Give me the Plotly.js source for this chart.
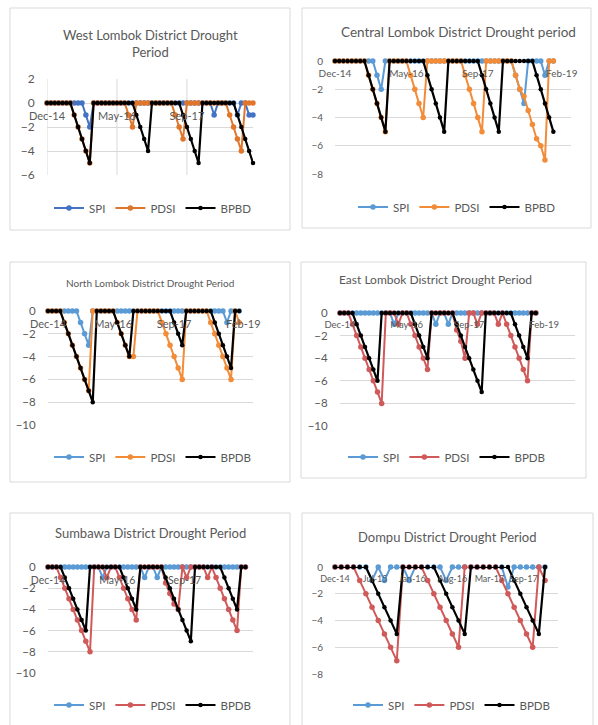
<!DOCTYPE html>
<html><head><meta charset="utf-8">
<script src="https://cdn.plot.ly/plotly-3.0.1.min.js"></script>
<style>html,body{margin:0;padding:0;background:#fff}#chart{width:598px;height:725px}</style>
</head><body><div id="chart"></div>
<script>
// ---------- DATA ----------
// West Lombok
const westSPI  = [0,0,0,0,0,0,0,0,0,0, -1,-2,0,0,0,0,0,0,0,0, 0,0,0,0,0,0,0,0,0,0, 0,0,0,0,0,0,0,0,0,0, 0,0,0,-1,0,0,0,0,0,-1, 0,0,-1,-1];
const westPDSI = [0,0,0,0,0,0,0,-1,-2,-3, -4,-5,0,0,0,0,0,0,0,0, 0,-1,-2,0,0,0,0,0,0,0, 0,0,0,-1,-2,-3,0,0,0,0, 0,0,0,0,0,0,0,-1,-2,-3, -4,0,0,0];
const westBPBD = [0,0,0,0,0,0,0,-1,-2,-3, -4,-5,0,0,0,0,0,0,0,0, 0,0,0,-1,-2,-3,-4,0,0,0, 0,0,0,0,0,-1,-2,-3,-4,-5, 0,0,0,0,0,0,0,0,0,-1, -2,-3,-4,-5];
const westTickText = ['Dec-14','May-16','Sep-17'];
const westTickPos  = [0,18,36];

// Central Lombok
const centralSPI  = [0,0,0,0,0,0,0,0,0,0, -1,-2,0,0,0,0,0,0,0,0, 0,0,0,0,0,0,0,0,0,0, 0,0,0,0,0,0,0,0,0,0, 0,0,0,-1,-2,-3,0,0,0,0, -1,0,0];
const centralPDSI = [0,0,0,0,0,0,0,0,-1,-2, -3,-4,-5,0,0,0,0,0,-1,-2, -3,-4,0,0,0,0,0,0,0,0, 0,-1,-2,-3,-4,-5,0,0,0,0, 0,0,0,-1,-2,-2.5,-3.5,-4.5,-5.5,-6, -7,0,0];
const centralBPBD = [0,0,0,0,0,0,0,0,-1,-2, -3,-4,-5,0,0,0,0,0,0,0, 0,0,-1,-2,-3,-4,-5,0,0,0, 0,0,0,0,0,-1,-2,-3,-4,-5, 0,0,0,0,0,0,0,0,-1,-2, -3,-4,-5];
const centralTickText = ['Dec-14','May-16','Sep-17','Feb-19'];
const centralTickPos  = [0,17,34,54];

// North Lombok
const northSPI  = [0,0,0,0,0,0,0,0,-1,-2, -3,0,0,0,0,0,0,0,0,0, 0,0,0,0,0,0,0,0,0,0, 0,0,0,0,0,0,0,0,0,0, 0,0,0,0,-1,0,0,0];
const northPDSI = [0,0,0,0,-1,-2,-3,-4,-5,-6, -7,0,0,0,0,0,0,-1,-2,-3, -4,-4,0,0,0,0,0,0,-1,-2, -3,-4,-5,-6,0,0,0,0,0,0, -1,-2,-3,-4,-5,-6,0,-1];
const northBPDB = [0,0,0,0,-1,-2,-3,-4,-5,-6, -7,-8,0,0,0,0,0,-1,-2,-3, -4,0,0,0,0,0,0,0,0,0, 0,-1,-2,-3,0,0,0,0,0,0, 0,-1,-2,-3,-4,-5,0,0];
const northTickText = ['Dec-14','May-16','Sep-17','Feb-19'];
const northTickPos  = [0,16,31,48];

// East Lombok
const eastSPI  = [0,0,0,0,0,0,0,0,0,0, 0,0,0,-1,0,0,0,0,0,0, 0,0,0,-1,0,0,-1,0,0,0, 0,0,0,0,0,0,0,0,0,0, 0,0,0,0,0,0,0,0];
const eastPDSI = [0,0,0,-1,-2,-3,-4,-5,-6,-7, -8,0,0,0,-1,0,0,-1,-2,-3, -4,-5,0,0,0,0,0,0,-1.5,-2.5, -4,0,0,-1,0,0,0,0,-1,0, -1,-2,-3,-4,-5,-6,0,0];
const eastBPDB = [0,0,0,0,-1,-2,-3,-4,-5,-6, 0,0,0,0,0,0,0,0,-1,-2, -3,-4,0,0,0,0,0,0,-1,-2, -3,-4,-5,-6,-7,0,0,0,0,0, 0,0,-1,-2,-3,-4,0,0];
const eastTickText = ['Dec-14','May-16','Sep-17','Feb-19'];
const eastTickPos  = [0,16,31,49];

// Sumbawa
const sumbawaSPI  = [0,0,0,0,0,0,0,0,0,0, 0,0,0,-1,0,0,0,0,0,0, 0,0,0,-1,0,0,-1,0,0,0, 0,0,0,0,0,0,0,0,0,0, 0,0,0,0,0,0,0,0];
const sumbawaPDSI = [0,0,0,-1,-2,-3,-4,-5,-6,-7, -8,0,0,0,-1,0,0,-1,-2,-3, -4,-5,0,0,0,0,0,0,-1.5,-2.5, -3.5,-4,0,-1,0,0,0,0,-1,0, -1,-2,-3,-4,-5,-6,0,0];
const sumbawaBPDB = [0,0,0,0,-1,-2,-3,-4,-5,-6, 0,0,0,0,0,0,0,0,-1,-2, -3,-4,0,0,0,0,0,0,-1,-2, -3,-4,-5,-6,-7,0,0,0,0,0, 0,0,-1,-2,-3,-4,0,0];
const sumbawaTickText = ['Dec-14','May-16','Sep-17','Feb-19'];
const sumbawaTickPos  = [0,16.5,32.5,49];

// Dompu
const dompuSPI  = [0,0,0,0,0,0,-1,0,-1,0, 0,0,-1,0,0,0,0,0,-1,0, 0,0,0,0,0,0,0,0,-1.5,0, 0,0,0,0,0];
const dompuPDSI = [0,0,0,0,-1,-2,-3,-4,-5,-6, -7,0,0,0,0,-1,-2,-3,-4,-5, -6,0,0,0,0,0,0,-1,-2,-3, -4,-5,-6,0,-1];
const dompuBPDB = [0,0,0,0,0,0,-1,-2,-3,-4, -5,0,0,0,0,0,0,-1,-2,-3, -4,-5,0,0,0,0,0,0,0,-1, -2,-3,-4,-5,0];
const dompuTickText = ['Dec-14','Jul-15','Jan-16','Aug-16','Mar-17','Sep-17'];
const dompuTickPos  = [0,6.5,12.5,19,25,30.5];

// ---------- STYLE / LAYOUT ----------
const W = 598, H = 725;
const FONT = 'Lato, "Open Sans", sans-serif';
const TXT = '#595959', GRID = '#D9D9D9';

const panels = [
  {title:'West Lombok District Drought<br>Period', tx:150, ty:43, tfs:13,
   series:[westSPI, westPDSI, westBPBD], names:['SPI','PDSI','BPBD'],
   colors:['#4472C4','#E0762B','#000000'],
   box:[47,79,253,175], yr:[-6,2], xr:[0,53], tp:westTickPos, tt:westTickText, vgrid:true,
   xfs:11, yfs:12, leg:[153,208]},
  {title:'Central Lombok District Drought period', tx:458, ty:32, tfs:13.5,
   series:[centralSPI, centralPDSI, centralBPBD], names:['SPI','PDSI','BPBD'],
   colors:['#5B9BD5','#F28C38','#000000'],
   box:[335,61,571,174], yr:[-8,0], xr:[0,56.2], tp:centralTickPos, tt:centralTickText, vgrid:false,
   xfs:10, yfs:10, leg:[457,207]},
  {title:'North Lombok District Drought Period', tx:150, ty:283, tfs:10,
   series:[northSPI, northPDSI, northBPDB], names:['SPI','PDSI','BPDB'],
   colors:['#5B9BD5','#F28C38','#000000'],
   box:[48,311,253,425], yr:[-10,0], xr:[0,50.4], tp:northTickPos, tt:northTickText, vgrid:false,
   xfs:11, yfs:11.5, leg:[153,457]},
  {title:'East Lombok District Drought Period', tx:435, ty:279, tfs:12,
   series:[eastSPI, eastPDSI, eastBPDB], names:['SPI','PDSI','BPDB'],
   colors:['#5B9BD5','#D05A5A','#000000'],
   box:[340,313,575,426], yr:[-10,0], xr:[0,56.4], tp:eastTickPos, tt:eastTickText, vgrid:false,
   xfs:9.5, yfs:11.5, leg:[447,457]},
  {title:'Sumbawa District Drought Period', tx:150, ty:533, tfs:13,
   series:[sumbawaSPI, sumbawaPDSI, sumbawaBPDB], names:['SPI','PDSI','BPDB'],
   colors:['#5B9BD5','#D05A5A','#000000'],
   box:[48,567,253,673], yr:[-10,0], xr:[0,48.8], tp:sumbawaTickPos, tt:sumbawaTickText, vgrid:false,
   xfs:10.5, yfs:11.5, leg:[153,705]},
  {title:'Dompu District Drought Period', tx:448, ty:537, tfs:13,
   series:[dompuSPI, dompuPDSI, dompuBPDB], names:['SPI','PDSI','BPDB'],
   colors:['#5B9BD5','#D05A5A','#000000'],
   box:[335,567,558,674], yr:[-8,0], xr:[0,36.1], tp:dompuTickPos, tt:dompuTickText, vgrid:false,
   xfs:9, yfs:10, leg:[452,705]}
];
const borders = [[10,8,290,230],[302,8,591,228],[10,262,290,482],[301,262,586,478],[10,513,290,726],[302,513,593,726]];

const traces = [];
const layout = {
  width:W, height:H, margin:{l:0,r:0,t:0,b:0},
  paper_bgcolor:'#fff', plot_bgcolor:'rgba(0,0,0,0)',
  font:{family:FONT, color:TXT}, hovermode:false,
  annotations:[], shapes:[]
};

panels.forEach((p, k) => {
  const n = k + 1;
  const sfx = n === 1 ? '' : String(n);
  const xa = 'xaxis' + sfx, ya = 'yaxis' + sfx;
  const xr = 'x' + sfx, yr = 'y' + sfx;
  const lg = 'legend' + sfx;
  const [l, t, r, b] = p.box;
  const zeroPx = t + (b - t) * (p.yr[1] - 0) / (p.yr[1] - p.yr[0]);
  layout[xa] = {
    domain:[l / W, r / W], range:p.xr, anchor:'free', position:1 - zeroPx / H,
    tickmode:'array', tickvals:p.tp, ticktext:p.tt,
    showgrid:false, zeroline:false, showline:false,
    ticks:'outside', ticklen:3, tickcolor:'rgba(0,0,0,0)',
    tickfont:{family:FONT, size:p.xfs, color:TXT}, fixedrange:true
  };
  layout[ya] = {
    domain:[1 - b / H, 1 - t / H], range:p.yr, anchor:xr, dtick:2,
    showgrid:true, gridcolor:GRID, gridwidth:1, zeroline:false, showline:false,
    ticks:'outside', ticklen:9, tickcolor:'rgba(0,0,0,0)',
    tickfont:{family:FONT, size:p.yfs, color:TXT}, fixedrange:true
  };
  layout[lg] = {
    x:p.leg[0] / W, y:1 - p.leg[1] / H, xanchor:'center', yanchor:'middle',
    orientation:'h', bgcolor:'rgba(0,0,0,0)', font:{family:FONT, size:11.5, color:TXT},
    itemclick:false
  };
  if (p.vgrid) {
    p.tp.forEach(v => layout.shapes.push({type:'line', xref:xr, yref:'paper',
      x0:v, x1:v, y0:1 - b / H, y1:1 - t / H, line:{color:GRID, width:1}, layer:'below'}));
  }
  p.series.forEach((vals, s) => {
    const black = s === 2;
    traces.push({
      type:'scatter', mode:'lines+markers', name:p.names[s],
      x:vals.map((_, i) => i), y:vals, xaxis:xr, yaxis:yr, legend:lg,
      line:{color:p.colors[s], width:black ? 2.2 : 2},
      marker:{color:p.colors[s], size:black ? 4.5 : 5.5, symbol:'circle'},
      cliponaxis:false
    });
  });
  layout.annotations.push({
    xref:'paper', yref:'paper', x:p.tx / W, y:1 - p.ty / H, xanchor:'center', yanchor:'middle',
    text:p.title, showarrow:false, font:{family:FONT, size:p.tfs, color:TXT}
  });
});
borders.forEach(bx => {
  layout.shapes.push({type:'rect', xref:'paper', yref:'paper',
    x0:bx[0] / W, x1:bx[2] / W, y0:1 - bx[3] / H, y1:1 - bx[1] / H,
    line:{color:GRID, width:1}, fillcolor:'rgba(0,0,0,0)', layer:'below'});
});

Plotly.newPlot('chart', traces, layout, {staticPlot:true, displayModeBar:false});
</script>
</body></html>
